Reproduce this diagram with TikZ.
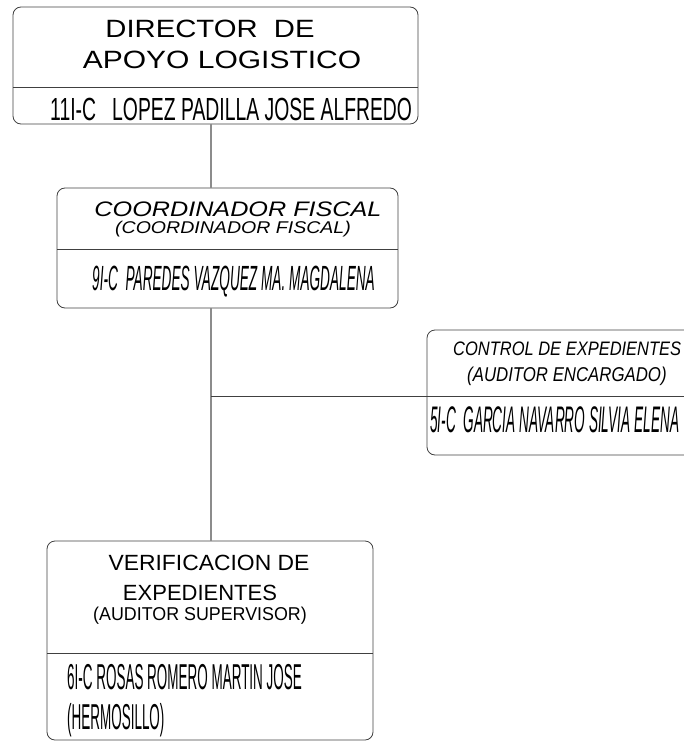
\documentclass[tikz,border=0pt]{standalone}
\usepackage{fontspec}
\usepackage{graphicx}
\setmainfont{Liberation Sans}
\usetikzlibrary{positioning,calc}

% condensed and wide lettering
\newcommand{\lettering}[3]{\fontsize{#1}{#1}\selectfont\scalebox{#2}[1]{#3}}

\begin{document}
\begin{tikzpicture}[x=1pt,y=-1pt,
  box/.style={draw=black!75,line width=0.8pt,rounded corners=8pt,inner sep=0pt,outer sep=0pt},
  sep/.style={draw=black!75,line width=0.8pt},
  link/.style={draw=black!45,line width=1.4pt},
  txt/.style={inner sep=0pt,anchor=base},
  txtl/.style={inner sep=0pt,anchor=base west}]
\useasboundingbox (0,0) rectangle (684,746);

% boxes
\node[box,minimum width=405pt,minimum height=117pt] (dir) at (215.5,65.5) {};
\node[box,minimum width=341pt,minimum height=120pt] (coord) at (227.5,248) {};
\node[box,minimum width=273pt,minimum height=125pt] (ctrl) at (563.5,392.5) {};
\node[box,minimum width=326pt,minimum height=199pt] (verif) at (210,640.5) {};

% dividers
\draw[sep] (dir.west |- 0,87) -- (dir.east |- 0,87);
\draw[sep] (coord.west |- 0,249) -- (coord.east |- 0,249);
\draw[sep] (ctrl.west |- 0,396) -- (ctrl.east |- 0,396);
\draw[sep] (verif.west |- 0,653) -- (verif.east |- 0,653);

% connectors
\coordinate (jn) at (211,396);
\draw[link] (dir.south -| jn) -- (coord.north -| jn);
\draw[link] (coord.south -| jn) -- (verif.north -| jn);
\draw[sep] (jn) -- (ctrl.west |- jn);

% director
\node[txt] (dirA) at (210,38) {\lettering{25}{1.17}{DIRECTOR\ \ DE}};
\node[txt] (dirB) at (222,69) {\lettering{25}{1.2}{APOYO LOGISTICO}};
\node[txtl] (dirN) at (50,121) {\lettering{32}{0.605}{11I-C\ \ \ LOPEZ PADILLA JOSE ALFREDO}};

% coordinador
\node[txt] (coA) at (238,216) {\itshape\lettering{21}{1.2}{COORDINADOR FISCAL}};
\node[txt] (coB) at (233,233) {\itshape\lettering{17}{1.15}{(COORDINADOR FISCAL)}};
\node[txtl] (coN) at (92,290) {\itshape\lettering{35}{0.39}{9I-C\ \ PAREDES VAZQUEZ MA. MAGDALENA}};

% control
\node[txtl] (ctA) at (453,355) {\itshape\lettering{19.5}{0.845}{CONTROL DE EXPEDIENTES}};
\node[txtl] (ctB) at (467,381) {\itshape\lettering{20}{0.84}{(AUDITOR ENCARGADO)}};
\node[txtl] (ctN) at (430,432) {\itshape\lettering{37}{0.368}{5I-C\ \ GARCIA NAVARRO SILVIA ELENA}};

% verificacion
\node[txt] (veA) at (209,570) {\lettering{22}{1.04}{VERIFICACION DE}};
\node[txt] (veB) at (200,600) {\lettering{22}{1}{EXPEDIENTES}};
\node[txt] (veC) at (200,620) {\lettering{18.6}{0.96}{(AUDITOR SUPERVISOR)}};
\node[txtl] (veN) at (67,689) {\lettering{36}{0.374}{6I-C ROSAS ROMERO MARTIN JOSE}};
\node[txtl] (veH) at (67,729) {\lettering{36}{0.374}{(HERMOSILLO)}};
\end{tikzpicture}
\end{document}
